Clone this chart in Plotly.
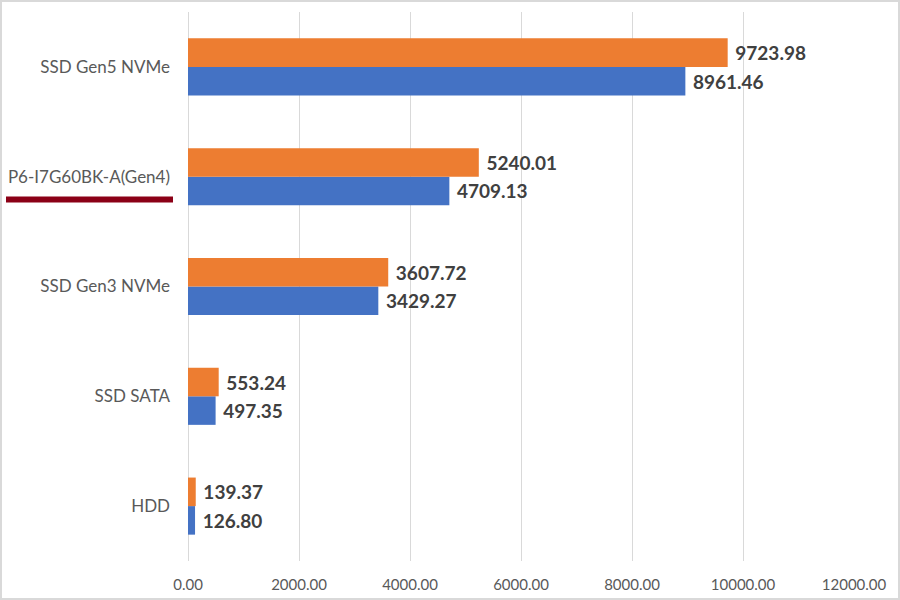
import plotly.graph_objects as go

categories = ["HDD", "SSD SATA", "SSD Gen3 NVMe", "P6-I7G60BK-A(Gen4)", "SSD Gen5 NVMe"]
blue_values = [126.80, 497.35, 3429.27, 4709.13, 8961.46]
orange_values = [139.37, 553.24, 3607.72, 5240.01, 9723.98]
x_ticks = [0, 2000, 4000, 6000, 8000, 10000, 12000]

W, H = 900, 600
L, R, T, B = 188, 46, 12, 39
pw, ph = W - L - R, H - T - B

def px_x(p):
    return (p - L) / pw

def px_y(p):
    return 1 - (p - T) / ph

FONT = "Lato, 'Open Sans', sans-serif"
label_font = dict(family=FONT, size=19, color="#404040", weight="bold")

fig = go.Figure()
fig.add_trace(go.Bar(
    y=categories, x=blue_values, orientation="h", name="Series 1",
    marker=dict(color="#4472C4", line=dict(width=0)),
    text=["\u00a0" + f"{v:.2f}" for v in blue_values], textposition="outside",
    textfont=label_font, cliponaxis=False,
))
fig.add_trace(go.Bar(
    y=categories, x=orange_values, orientation="h", name="Series 2",
    marker=dict(color="#ED7D31", line=dict(width=0)),
    text=["\u00a0" + f"{v:.2f}" for v in orange_values], textposition="outside",
    textfont=label_font, cliponaxis=False,
))

fig.update_layout(
    width=W, height=H,
    margin=dict(l=L, r=R, t=T, b=B, pad=0, autoexpand=False),
    paper_bgcolor="white", plot_bgcolor="white",
    barmode="group", bargap=0.48, bargroupgap=0,
    showlegend=False,
    font=dict(family=FONT, color="#595959"),
    xaxis=dict(
        automargin=False,
        range=[0, 12000], tickvals=x_ticks,
        ticktext=[f"{v:.2f}" for v in x_ticks],
        showgrid=True, gridcolor="#D9D9D9", gridwidth=1,
        zeroline=True, zerolinecolor="#D9D9D9", zerolinewidth=1,
        showline=False, ticks="", tickfont=dict(size=15, color="#595959"),
        ticklabelstandoff=13,
    ),
    yaxis=dict(
        automargin=False,
        categoryorder="array", categoryarray=categories,
        showgrid=False, showline=False, ticks="", zeroline=False,
        tickfont=dict(size=17, color="#595959"), ticklabelstandoff=17,
    ),
    shapes=[
        dict(type="line", xref="paper", yref="paper",
             x0=px_x(6), x1=px_x(173), y0=px_y(199.5), y1=px_y(199.5),
             line=dict(color="#8B0016", width=6)),
        dict(type="rect", xref="paper", yref="paper",
             x0=px_x(1), x1=px_x(899), y0=px_y(599), y1=px_y(1),
             line=dict(color="#D9D9D9", width=2)),
    ],
)

fig.write_html(
    "out.html",
    config={"displayModeBar": False},
    post_script="document.body.style.margin='0';",
)
